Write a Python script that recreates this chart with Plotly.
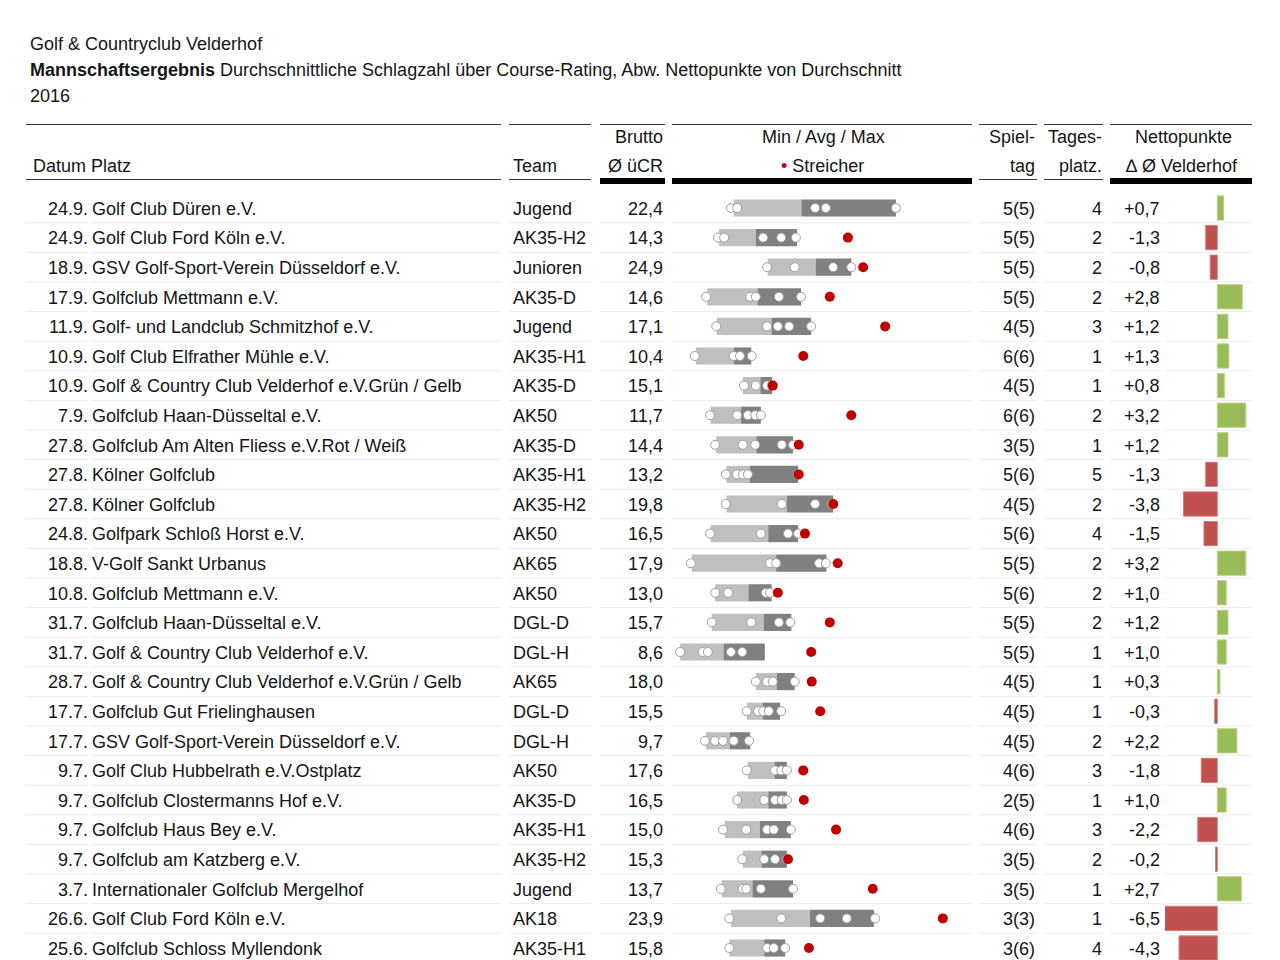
import plotly.graph_objects as go

# ---------------- data ----------------
dates = ["24.9.", "24.9.", "18.9.", "17.9.", "11.9.", "10.9.", "10.9.", "7.9.", "27.8.", "27.8.",
         "27.8.", "24.8.", "18.8.", "10.8.", "31.7.", "31.7.", "28.7.", "17.7.", "17.7.", "9.7.",
         "9.7.", "9.7.", "9.7.", "3.7.", "26.6.", "25.6."]
clubs = ["Golf Club Düren e.V.", "Golf Club Ford Köln e.V.", "GSV Golf-Sport-Verein Düsseldorf e.V.",
         "Golfclub Mettmann e.V.", "Golf- und Landclub Schmitzhof e.V.", "Golf Club Elfrather Mühle e.V.",
         "Golf & Country Club Velderhof e.V.Grün / Gelb", "Golfclub Haan-Düsseltal e.V.",
         "Golfclub Am Alten Fliess e.V.Rot / Weiß", "Kölner Golfclub", "Kölner Golfclub",
         "Golfpark Schloß Horst e.V.", "V-Golf Sankt Urbanus", "Golfclub Mettmann e.V.",
         "Golfclub Haan-Düsseltal e.V.", "Golf & Country Club Velderhof e.V.",
         "Golf & Country Club Velderhof e.V.Grün / Gelb", "Golfclub Gut Frielinghausen",
         "GSV Golf-Sport-Verein Düsseldorf e.V.", "Golf Club Hubbelrath e.V.Ostplatz",
         "Golfclub Clostermanns Hof e.V.", "Golfclub Haus Bey e.V.", "Golfclub am Katzberg e.V.",
         "Internationaler Golfclub Mergelhof", "Golf Club Ford Köln e.V.", "Golfclub Schloss Myllendonk"]
teams = ["Jugend", "AK35-H2", "Junioren", "AK35-D", "Jugend", "AK35-H1", "AK35-D", "AK50", "AK35-D",
         "AK35-H1", "AK35-H2", "AK50", "AK65", "AK50", "DGL-D", "DGL-H", "AK65", "DGL-D", "DGL-H",
         "AK50", "AK35-D", "AK35-H1", "AK35-H2", "Jugend", "AK18", "AK35-H1"]
brutto = [22.4, 14.3, 24.9, 14.6, 17.1, 10.4, 15.1, 11.7, 14.4, 13.2, 19.8, 16.5, 17.9, 13.0, 15.7,
          8.6, 18.0, 15.5, 9.7, 17.6, 16.5, 15.0, 15.3, 13.7, 23.9, 15.8]
spieltag = ["5(5)", "5(5)", "5(5)", "5(5)", "4(5)", "6(6)", "4(5)", "6(6)", "3(5)", "5(6)", "4(5)",
            "5(6)", "5(5)", "5(6)", "5(5)", "5(5)", "4(5)", "4(5)", "4(5)", "4(6)", "2(5)", "4(6)",
            "3(5)", "3(5)", "3(3)", "3(6)"]
tagesplatz = [4, 2, 2, 2, 3, 1, 1, 2, 1, 5, 2, 4, 2, 2, 2, 1, 1, 1, 2, 3, 1, 3, 2, 1, 1, 4]
netto = [0.7, -1.3, -0.8, 2.8, 1.2, 1.3, 0.8, 3.2, 1.2, -1.3, -3.8, -1.5, 3.2, 1.0, 1.2, 1.0, 0.3,
         -0.3, 2.2, -1.8, 1.0, -2.2, -0.2, 2.7, -6.5, -4.3]
player_scores = [
    [9.9, 11.0, 24.8, 26.7, 39.1],
    [7.6, 8.7, 15.6, 18.8, 21.4],
    [16.3, 21.2, 28.0, 31.2],
    [5.5, 13.3, 14.3, 18.4, 22.3],
    [7.3, 16.3, 18.2, 20.2, 24.1],
    [3.5, 10.4, 11.5, 13.6],
    [12.2, 14.3, 16.3, 17.1],
    [6.2, 11.0, 12.9, 14.2, 15.2],
    [7.1, 12.0, 14.2, 18.9, 20.9],
    [9.0, 11.0, 12.0, 12.9, 21.8],
    [9.0, 18.9, 24.8, 27.8],
    [6.2, 15.2, 20.0, 21.8],
    [2.8, 16.8, 17.9, 25.5, 26.7],
    [7.1, 9.4, 16.1, 16.8],
    [6.5, 13.5, 18.4, 20.4],
    [0.9, 4.9, 5.8, 9.9, 11.9],
    [14.3, 16.3, 17.3, 21.2],
    [12.7, 14.7, 15.6, 16.6, 18.8],
    [5.3, 7.1, 8.5, 10.4, 13.1],
    [12.7, 17.7, 18.8, 19.8],
    [11.0, 15.8, 17.7, 18.9, 19.8],
    [8.5, 12.6, 16.3, 17.5, 20.5],
    [11.9, 15.8, 17.7, 19.8],
    [8.1, 12.0, 12.6, 15.2, 20.9],
    [9.6, 18.8, 25.7, 30.4, 35.4],
    [9.6, 16.3, 17.5, 19.5],
]
streicher = [None, 30.6, 33.3, 27.4, 37.2, 22.7, 17.3, 31.2, 21.9, 21.9, 28.0, 23.0, 28.8, 18.2,
             27.4, 24.1, 24.2, 25.7, None, 22.7, 22.8, 28.5, 20.0, 35.0, 47.4, 23.7]
bar_min = [10.4, 7.8, 16.4, 5.7, 7.4, 3.7, 12.0, 6.3, 7.3, 9.1, 9.1, 6.3, 3.0, 7.1, 6.5, 0.9,
           14.3, 12.7, 5.5, 12.9, 11.0, 8.8, 12.0, 8.3, 9.9, 9.6]
bar_max = [39.1, 21.6, 31.2, 22.3, 24.1, 13.5, 17.2, 15.2, 20.9, 21.8, 28.0, 21.8, 26.8, 17.1,
           20.6, 15.9, 21.2, 18.6, 13.3, 19.8, 19.8, 20.5, 19.8, 20.9, 35.2, 19.5]

header_title = "Golf & Countryclub Velderhof"
header_sub = "<b>Mannschaftsergebnis</b> Durchschnittliche Schlagzahl über Course-Rating, Abw. Nettopunkte von Durchschnitt"
header_year = "2016"

# ---------------- layout helpers ----------------
OFF = 8  # page body margin offset
ROW0, ROWH = 208.0, 29.6
def ry(px):
    return (px - ROW0) / ROWH

FONT = "Liberation Sans, Arial, Helvetica, sans-serif"
TXT = "#151515"
rows = list(range(len(dates)))

fig = go.Figure()

# row separators (light grid segments per column)
segments = [(26, 87), (91, 501), (509, 591), (600, 665), (672, 972), (979, 1037), (1044, 1103),
            (1110, 1161), (1165, 1252)]
sx, sy = [], []
for i in rows[:-1]:
    for a, b in segments:
        sx += [a, b, None]
        sy += [i + 0.5, i + 0.5, None]
fig.add_trace(go.Scatter(x=sx, y=sy, mode="lines", line=dict(color="#ebebeb", width=1),
                         hoverinfo="skip", showlegend=False, xaxis="x", yaxis="y"))

# min / avg / max bars
fig.add_trace(go.Bar(y=rows, base=bar_min, x=[a - m for a, m in zip(brutto, bar_min)],
                     orientation="h", width=0.58, marker=dict(color="#bfbfbf", line=dict(width=0)),
                     xaxis="x2", yaxis="y", showlegend=False, hoverinfo="skip"))
fig.add_trace(go.Bar(y=rows, base=brutto, x=[m - a for a, m in zip(brutto, bar_max)],
                     orientation="h", width=0.58, marker=dict(color="#808080", line=dict(width=0)),
                     xaxis="x2", yaxis="y", showlegend=False, hoverinfo="skip"))

px_, py_ = [], []
for i, sc in enumerate(player_scores):
    for v in sc:
        px_.append(v)
        py_.append(i)
fig.add_trace(go.Scatter(x=px_, y=py_, mode="markers",
                         marker=dict(size=9, color="white", line=dict(color="#a0a0a0", width=1)),
                         xaxis="x2", yaxis="y", showlegend=False, hoverinfo="skip"))
sx2 = [v for v in streicher if v is not None]
sy2 = [i for i, v in enumerate(streicher) if v is not None]
fig.add_trace(go.Scatter(x=sx2, y=sy2, mode="markers",
                         marker=dict(size=10, color="#c00000", line=dict(width=0)),
                         xaxis="x2", yaxis="y", showlegend=False, hoverinfo="skip"))

# Nettopunkte bars
fig.add_trace(go.Bar(y=rows, x=netto, base=0, orientation="h", width=0.82,
                     marker=dict(color=["#9bbb59" if v >= 0 else "#c0504d" for v in netto],
                                 line=dict(color=["#b9d08c" if v >= 0 else "#d27e7b" for v in netto], width=1)),
                     xaxis="x3", yaxis="y", showlegend=False, hoverinfo="skip"))

ann = []
PAD = 2
def t(x, y, text, anchor="left", size=18):
    if anchor == "left":
        x = x - PAD
    elif anchor == "right":
        x = x + PAD
    ann.append(dict(x=x, y=y, xref="x", yref="y", text=text, showarrow=False, xanchor=anchor,
                    yanchor="middle", font=dict(family=FONT, size=size, color=TXT)))

def fmt(v):
    return f"{v:.1f}".replace(".", ",")

for i in rows:
    y = i + 0.03
    t(88, y, dates[i], "right")
    t(92, y, clubs[i], "left")
    t(513, y, teams[i], "left")
    t(663, y, fmt(brutto[i]), "right")
    t(1035, y, spieltag[i], "right")
    t(1102, y, str(tagesplatz[i]), "right")
    t(1160, y, ("+" if netto[i] >= 0 else "") + fmt(netto[i]), "right")

# titles
t(30, ry(44), header_title, "left")
t(30, ry(70), header_sub, "left")
t(30, ry(96), header_year, "left")

# headers
h1, h2 = ry(137), ry(166)
t(663, h1, "Brutto", "right")
t(823, h1, "Min / Avg / Max", "center")
t(1035, h1, "Spiel-", "right")
t(1102, h1, "Tages-", "right")
t(1183, h1, "Nettopunkte", "center")
t(33, h2, "Datum Platz", "left")
t(513, h2, "Team", "left")
t(663, h2, "Ø üCR", "right")
t(822, h2, "<span style='color:#c00000'>•</span> Streicher", "center")
t(1035, h2, "tag", "right")
t(1102, h2, "platz.", "right")
t(1182, h2, "∆ Ø Velderhof", "center")

shapes = []
all_cols = [(26, 501), (509, 591), (600, 665), (672, 972), (979, 1037), (1044, 1103), (1110, 1252)]
for a, b in all_cols:
    shapes.append(dict(type="line", xref="x", yref="y", x0=a, x1=b, y0=ry(124.5), y1=ry(124.5),
                       line=dict(color="#333333", width=1)))
thick = {(600, 665), (672, 972), (1110, 1252)}
for a, b in all_cols:
    if (a, b) in thick:
        shapes.append(dict(type="line", xref="x", yref="y", x0=a, x1=b, y0=ry(181), y1=ry(181),
                           line=dict(color="#000000", width=6)))
    else:
        shapes.append(dict(type="line", xref="x", yref="y", x0=a, x1=b, y0=ry(179.5), y1=ry(179.5),
                           line=dict(color="#333333", width=1)))

W, H = 1280, 960
hidden = dict(visible=False, showgrid=False, zeroline=False, fixedrange=True)
fig.update_layout(
    width=W, height=H, margin=dict(l=0, r=0, t=0, b=0),
    paper_bgcolor="white", plot_bgcolor="rgba(0,0,0,0)",
    barmode="overlay", showlegend=False,
    xaxis=dict(range=[OFF, W + OFF], domain=[0, 1], **hidden),
    xaxis2=dict(range=[(672 - 675) / 5.65, (972 - 675) / 5.65],
                domain=[(672 - OFF) / W, (972 - OFF) / W], anchor="y", **hidden),
    xaxis3=dict(range=[(1165 - 1217.3) / 8.9, (1252 - 1217.3) / 8.9],
                domain=[(1165 - OFF) / W, (1252 - OFF) / W], anchor="y", **hidden),
    yaxis=dict(range=[ry(H + OFF), ry(OFF)], domain=[0, 1], **hidden),
    annotations=ann, shapes=shapes,
)

fig.write_html("out.html")
